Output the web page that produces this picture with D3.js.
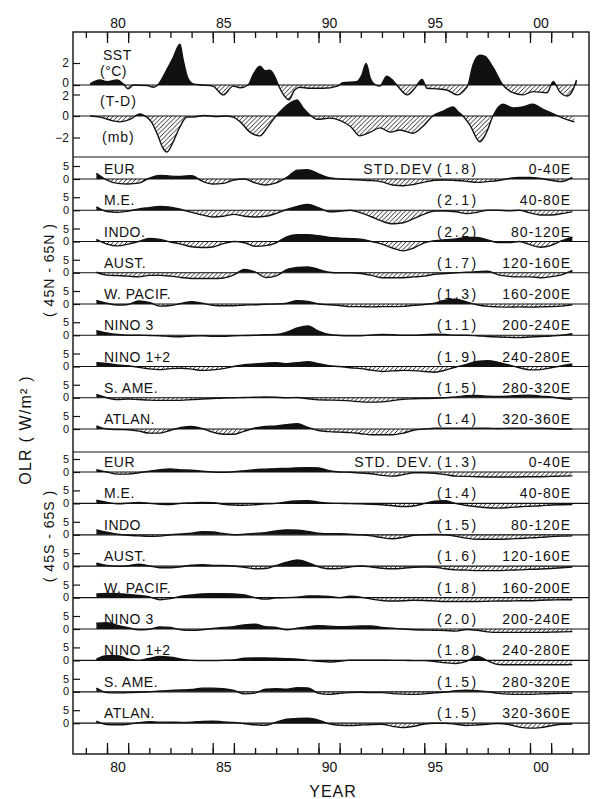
<!DOCTYPE html>
<html><head><meta charset="utf-8">
<script src="https://cdn.jsdelivr.net/npm/d3@7"></script>
<style>
body{margin:0;background:#fff}
text{font-family:"Liberation Sans",Arial,sans-serif;fill:#111}
</style>
</head><body>
<svg id="c" width="597" height="799"></svg>
<script>
// ---------- axis data ----------
const tickYears = [1979,1980,1981,1982,1983,1984,1985,1986,1987,1988,1989,1990,1991,1992,1993,1994,1995,1996,1997,1998,1999,2000,2001,2002];
const longTickYears = [1980,1981,1985,1986,1990,1991,1995,1996,2000,2001];
const labelYears = [1980.5,1985.5,1990.5,1995.5,2000.5];
const labelTexts = ["80","85","90","95","00"];

// ---------- SST (°C) ----------
const sstYears = [1979.2,1979.67,1980.0,1980.47,1980.77,1981.0,1981.25,1981.9,1982.2,1982.4,1982.83,1983.13,1983.45,1983.6,1983.83,1984.07,1984.5,1985.0,1985.5,1985.96,1986.3,1986.67,1986.9,1987.23,1987.47,1987.7,1987.95,1988.1,1988.35,1988.6,1988.85,1989.1,1989.6,1990.2,1990.9,1991.15,1991.8,1992.05,1992.25,1992.45,1992.7,1992.9,1993.23,1993.47,1993.7,1994.2,1994.55,1994.9,1995.13,1995.6,1996.07,1996.55,1996.93,1997.07,1997.3,1997.63,1997.87,1998.25,1998.72,1999.2,1999.67,2000.13,2000.8,2001.1,2001.4,2001.75,2002.05,2002.2];
const sstValues = [0.1,0.45,0.3,0.45,0.1,-0.35,0,-0.05,-0.2,0,1.4,2.5,3.7,2.3,0.6,0.1,0,-0.1,-0.9,-0.1,-0.25,0,0.9,1.7,1.3,1.35,0.7,0,-0.9,-1.35,-0.5,-0.2,-0.3,-0.3,-0.1,0.2,0.3,0.9,1.95,0.6,0,-0.1,0.8,0.5,0,-0.9,-0.3,0.5,-0.3,-0.35,-0.45,-0.9,-0.4,0,1.8,2.7,2.6,1.6,0,-0.7,-0.9,-0.6,-0.7,0.3,-0.6,-1.0,-0.35,0.45];

// ---------- T-D pressure (mb) ----------
const tdYears = [1979.2,1979.67,1980.3,1980.6,1981.1,1981.56,1981.8,1982.1,1982.36,1982.65,1982.83,1983.13,1983.45,1983.78,1984.07,1984.6,1985.2,1985.6,1985.96,1986.3,1986.76,1987.23,1987.57,1987.95,1988.18,1988.65,1988.98,1989.27,1989.6,1989.93,1990.55,1991.0,1991.5,1991.96,1992.45,1992.9,1993.4,1993.85,1994.47,1994.94,1995.4,1995.9,1996.36,1996.6,1996.83,1997.16,1997.63,1997.95,1998.25,1998.72,1999.2,1999.67,2000.13,2000.6,2001.1,2001.56,2002.1];
const tdValues = [0,-0.1,-0.45,-0.55,-0.3,0.2,0,-0.55,-1.6,-3.0,-3.35,-2.4,-1.0,-0.1,-0.1,0.05,-0.05,0,-0.1,-0.55,-1.5,-1.85,-1.1,-0.1,0.4,1.2,1.5,0.75,0.1,-0.3,-0.2,-0.4,-0.95,-1.85,-1.5,-1.1,-1.5,-1.3,-1.6,-0.95,0,0.45,0.85,0.4,0,-0.85,-2.4,-1.5,0,1.1,0.75,0.85,1.1,0.65,0.2,-0.2,-0.55];

// ---------- OLR (W/m2), half-year steps ----------
const olrYears = [1979.5,1980.0,1980.5,1981.0,1981.5,1982.0,1982.5,1983.0,1983.5,1984.0,1984.5,1985.0,1985.5,1986.0,1986.5,1987.0,1987.5,1988.0,1988.5,1989.0,1989.5,1990.0,1990.5,1991.0,1991.5,1992.0,1992.5,1993.0,1993.5,1994.0,1994.5,1995.0,1995.5,1996.0,1996.5,1997.0,1997.5,1998.0,1998.5,1999.0,1999.5,2000.0,2000.5,2001.0,2001.5,2002.0];

const nEUR   = [2.2,-0.4,-1.7,-1.9,-1.6,0.3,1.4,1.1,1.0,1.3,-0.8,-1.9,-1.7,-0.4,0,-1.5,-2.3,-1.5,0.6,3.4,3.6,2.0,0.5,0,-0.2,-0.4,-0.6,-1.1,-2.3,-2.6,-2.1,-1.2,-0.5,-0.4,-0.6,-0.9,-1.3,-1.0,-0.6,0.2,0.6,0.6,0.2,-0.5,-1.0,0.6];
const nME    = [1.3,-0.5,-0.8,-0.3,0.5,1.0,1.5,1.2,0.3,-0.8,-1.8,-2.6,-2.3,-1.6,-2.3,-2.6,-2.3,-1.2,0.3,1.5,2.2,1.0,-0.6,-0.4,0,-1.0,-2.5,-4.2,-5.2,-4.8,-3.2,-1.5,-0.3,-0.3,-0.6,-1.3,-0.8,0,0,-0.2,0,-1.0,-1.8,-1.8,-1.3,-0.5];
const nINDO  = [0.8,-1.0,-1.7,-1.0,0,1.2,0.8,-0.2,-1.0,-2.0,-2.3,-2.1,-0.8,0,-0.5,-1.8,-1.6,-0.5,1.8,2.6,2.6,2.2,1.6,1.3,1.1,0.9,0,-1.0,-2.5,-3.6,-2.5,-0.5,0.3,0.7,1.0,1.6,1.6,0.6,-0.4,-0.4,0,-1.2,-2.2,-1.5,0.3,1.8];
const nAUST  = [0.2,-0.9,-1.1,-1.3,-1.6,-1.0,-1.0,-1.3,-1.8,-2.2,-2.2,-2.2,-2.0,-0.8,1.3,0.3,-1.8,-1.2,1.2,2.0,2.2,1.3,0.2,0,0,-0.3,-1.0,-1.9,-1.9,-1.9,-1.6,-1.3,-0.6,-0.3,0,0.2,0.4,0.6,-0.8,-1.4,-1.6,-1.6,-1.9,-1.5,-0.8,0.9];
const nWPAC  = [1.4,0.3,-0.4,-0.2,1.2,0.6,-0.8,-0.6,0.2,0.9,0.3,-0.5,-0.7,-0.7,-0.4,-0.3,-0.1,0,0.3,1.3,1.0,0,-0.3,-0.6,-1.0,-1.0,-1.1,-1.0,-1.0,-0.9,-0.5,-0.2,0.3,1.5,1.8,0.8,-0.3,-0.9,-1.1,-1.2,-1.1,-1.2,-1.1,-1.0,-0.8,-0.3];
const nNINO3 = [1.8,0.9,0.3,0,0,-0.1,-0.2,-0.5,-0.6,-0.3,-0.2,-0.4,-0.4,-0.2,-0.1,0,0.2,0.3,1.2,2.8,3.6,1.6,0.3,-0.1,-0.2,-0.2,0.1,0.3,0.2,0,0,0.2,0.4,0.3,0,0,-0.2,-0.5,-0.7,-0.8,-0.9,-0.7,-0.5,-0.3,0,0.6];
const nNINO12= [1.5,1.2,0.6,0.3,-0.3,-0.9,-1.2,-0.8,-0.7,-1.0,-1.5,-1.3,-0.8,0,0.7,1.0,1.3,1.5,1.1,1.5,1.8,1.1,0.3,0,-0.5,-0.8,-1.4,-1.9,-1.7,-1.5,-1.6,-1.9,-2.2,-1.4,-0.2,0.8,1.9,2.2,1.6,0.6,-0.5,-1.3,-1.2,-0.5,0.3,1.0];
const nSAME  = [1.3,0,-0.7,-0.5,-0.7,-0.9,-1.0,-1.0,-1.0,-0.7,-0.5,-0.3,-0.1,0,0.1,0.2,0.3,0.2,0,0.1,-0.4,-0.8,-0.9,-1.0,-1.2,-1.6,-1.7,-1.6,-1.1,-0.6,-0.4,-0.3,-0.2,0,0.3,0.8,0.9,0.6,0.5,0.6,0.9,1.0,0.6,0.3,-0.3,-0.6];
const nATLAN = [1.2,0,-0.2,-0.3,-0.8,-1.6,-1.6,-0.5,0.6,1.0,0.2,-1.2,-2.0,-2.0,-0.8,0.4,1.0,1.2,1.7,2.0,0.6,-0.6,-1.0,-1.2,-1.4,-1.8,-2.2,-2.2,-2.2,-1.6,-0.5,0,0.3,0.3,0.3,0.3,0.3,0.3,0.2,0.3,0.3,0.3,0.3,0.2,0,0];

const sEUR   = [0.9,0,-0.8,-0.8,-0.3,0.3,0.9,1.2,0.8,0.7,0.3,0,-0.1,0.1,0.5,0.9,1.1,1.3,1.4,1.6,1.7,1.6,0.5,0,-0.1,-0.4,-0.7,-1.3,-1.6,-1.0,-0.3,-0.3,-0.5,-1.0,-1.6,-1.7,-1.8,-1.9,-1.9,-1.9,-1.9,-1.8,-1.8,-1.7,-1.6,-1.5];
const sME    = [1.2,0.4,-0.2,0.1,0.4,0,-0.3,-0.4,0,0.2,0.4,0.3,-0.3,-0.6,-0.7,-0.5,-0.2,0,0.6,0.9,1.0,0.5,0.1,0,-0.1,-0.2,-0.3,-0.5,-0.9,-1.2,-1.0,-0.1,0.8,1.0,-0.1,-0.8,-1.3,-1.7,-1.8,-1.6,-1.3,-1.1,-0.9,-0.6,-0.5,-0.4];
const sINDO  = [1.9,1.0,0.2,-0.2,-0.4,-0.6,-0.5,0,0.3,0.6,1.2,1.1,0.5,0,0.2,0.5,0.8,1.5,1.9,1.8,1.3,0.6,0.4,0.4,0.2,0,-0.4,-1.1,-1.5,-1.0,-0.2,0,0.1,0,-0.6,-1.3,-1.7,-1.7,-1.7,-1.6,-1.4,-1.2,-1.0,-0.7,-0.5,-0.4];
const sAUST  = [1.2,0.3,0,0.2,0.8,0.1,-0.6,-0.6,-0.2,0.4,0.6,0.3,0.3,0.1,-0.4,-1.0,-0.9,0.3,1.5,2.4,1.4,-0.2,-1.0,-0.9,-0.3,0.1,-0.3,-0.8,-1.0,-0.8,-0.4,-0.3,-0.4,-1.0,-1.4,-1.5,-1.7,-1.7,-1.7,-1.5,-1.4,-1.2,-1.1,-0.9,-0.6,-0.3];
const sWPAC  = [1.4,1.6,1.5,1.2,0.8,0.3,-0.8,-0.4,0.5,1.0,1.4,1.5,1.5,1.4,1.0,0,-0.6,-0.1,0,0.2,0.6,0.6,0.4,0,0.5,0.2,-0.6,-1.1,-1.3,-1.2,-1.0,-1.1,-1.3,-1.5,-1.5,-1.5,-1.5,-1.4,-1.3,-1.3,-1.2,-1.2,-1.0,-0.9,-0.8,-0.8];
const sNINO3 = [2.2,2.4,1.4,0.5,-0.3,-0.1,0.8,0.6,-0.3,-0.5,-0.3,0.2,0.6,0.9,1.6,1.8,0.9,0.6,-0.3,0.3,0.9,1.3,1.1,0.9,1.0,1.2,1.2,0.6,0.3,0,-0.3,-0.4,-0.5,-0.6,-0.8,-0.2,-0.5,-1.1,-1.3,-1.3,-1.3,-1.3,-1.3,-1.2,-1.1,-1.0];
const sNINO12= [0.5,1.8,1.8,0.6,0,0.8,1.5,1.2,0.5,0,-0.1,-0.1,0,0.2,0.8,0.9,0.9,0.8,0.7,0.5,0,-0.3,-0.6,-0.3,0.1,0.1,0.1,0.1,0,0,-0.1,-0.1,-0.4,-0.9,-1.2,-0.4,1.6,-0.2,-1.6,-1.7,-1.7,-1.7,-1.7,-1.7,-1.7,-1.6];
const sSAME  = [1.4,-0.3,-0.4,-0.3,-0.2,0,0.3,0.5,0.7,0.9,1.4,1.4,1.2,0.5,-0.8,-0.5,1.0,1.2,1.0,1.6,1.5,-0.6,-1.0,-0.6,-0.3,-0.2,-0.3,-0.3,-0.7,-0.9,-1.0,-0.8,-0.4,-0.1,0.4,0.6,0.4,0,-0.6,-0.9,-1.0,-1.0,-0.8,-0.7,-0.6,-0.6];
const sATLAN = [0.8,-0.5,-0.6,-0.4,0.2,0.6,0.4,0.4,0.3,0.4,0.7,0.8,0.5,0.3,-0.2,-0.6,-0.8,0.4,1.5,1.8,1.9,1.2,-0.2,-0.8,-0.9,-0.7,-0.5,-0.4,-1.2,-1.7,-1.2,-0.3,0,0,-0.4,-0.9,-0.7,-0.4,-0.1,-0.5,-1.5,-1.9,-1.7,-1.0,-0.4,-0.3];

const northSeries = [nEUR,nME,nINDO,nAUST,nWPAC,nNINO3,nNINO12,nSAME,nATLAN];
const southSeries = [sEUR,sME,sINDO,sAUST,sWPAC,sNINO3,sNINO12,sSAME,sATLAN];
const northNames = ["EUR","M.E.","INDO.","AUST.","W. PACIF.","NINO 3","NINO 1+2","S. AME.","ATLAN."];
const southNames = ["EUR","M.E.","INDO","AUST.","W. PACIF.","NINO 3","NINO 1+2","S. AME.","ATLAN."];
const lonBands = ["0-40E","40-80E","80-120E","120-160E","160-200E","200-240E","240-280E","280-320E","320-360E"];
const northStd = [1.8,2.1,2.2,1.7,1.3,1.1,1.9,1.5,1.4];
const southStd = [1.3,1.4,1.5,1.6,1.8,2.0,1.8,1.5,1.5];

// ---------- drawing ----------
const INK = "#111";
const FONT = "'Liberation Sans',Arial,sans-serif";
const L = 73, R = 589, T = 32, B = 754;
const svg = d3.select("#c");
svg.append("rect").attr("width",597).attr("height",799).attr("fill","#fff");
const defs = svg.append("defs");
const pat = defs.append("pattern").attr("id","hatch").attr("patternUnits","userSpaceOnUse")
  .attr("width",4.5).attr("height",4.5);
pat.append("rect").attr("width",4.5).attr("height",4.5).attr("fill","#fff");
pat.append("path").attr("d","M0,4.5 L4.5,0 M-1,1 L1,-1 M3.5,5.5 L5.5,3.5")
  .attr("stroke",INK).attr("stroke-width",0.9);

const x = d3.scaleLinear().domain([1980,2000]).range([107,530]);
const curve = d3.curveMonotoneX;
let clipId = 0;

// tickShift: optional per-value vertical nudge of the tick label text
function panel(times, vals, y, tickVals, fs, tickShift){
  const pts = times.map((t,i)=>[t, vals[i]]);
  const z = y(0);
  const id = clipId++;
  defs.append("clipPath").attr("id","up"+id).append("rect")
    .attr("x",L).attr("y",z-80).attr("width",R-L).attr("height",80);
  defs.append("clipPath").attr("id","dn"+id).append("rect")
    .attr("x",L).attr("y",z).attr("width",R-L).attr("height",80);
  const area = d3.area().x(d=>x(d[0])).y0(z).y1(d=>y(d[1])).curve(curve);
  const line = d3.line().x(d=>x(d[0])).y(d=>y(d[1])).curve(curve);
  const g = svg.append("g");
  g.append("path").datum(pts).attr("d",area).attr("fill",INK).attr("clip-path",`url(#up${id})`);
  g.append("path").datum(pts).attr("d",area).attr("fill","url(#hatch)").attr("clip-path",`url(#dn${id})`);
  g.append("line").attr("x1",L).attr("x2",R).attr("y1",z).attr("y2",z)
    .attr("stroke",INK).attr("stroke-width",1.2);
  g.append("path").datum(pts).attr("d",line).attr("fill","none")
    .attr("stroke",INK).attr("stroke-width",1.4).attr("stroke-linejoin","round");
  const ax = svg.append("g").attr("transform",`translate(${L},0)`)
    .call(d3.axisLeft(y).tickValues(tickVals).tickSize(-7).tickPadding(4).tickFormat(d3.format("d")));
  ax.select(".domain").remove();
  ax.selectAll("line").attr("stroke",INK).attr("stroke-width",1.2);
  ax.selectAll("text").attr("font-size",fs).attr("fill",INK).attr("font-family",FONT)
    .attr("y",d=> (tickShift && tickShift[d]) ? tickShift[d] : 0);
  return z;
}

// SST and T-D
const ySST = d3.scaleLinear().domain([0,2]).range([85,63]);
const yTD  = d3.scaleLinear().domain([0,2]).range([116,94.5]);
panel(sstYears, sstValues, ySST, [0,2], 12, {0:-2.5});
panel(tdYears, tdValues, yTD, [-2,0,2], 12, {2:1});

// OLR panels
const zN = d3.scalePoint().domain(d3.range(9)).range([179,429]);
const zS = d3.scalePoint().domain(d3.range(9)).range([472,723.2]);
function olrGroup(series, names, std, zs, stdLabel){
  series.forEach((vals,i)=>{
    const z0 = zs(i);
    const y = d3.scaleLinear().domain([0,5]).range([z0, z0-13]);
    panel(olrYears, vals, y, [0,5], 11, {0:-0.5});
    svg.append("text").attr("x",104).attr("y",z0-5).attr("font-size",14)
      .attr("letter-spacing",0.5).text(names[i]);
    svg.append("text").attr("x",571).attr("y",z0-5).attr("font-size",14)
      .attr("text-anchor","end").attr("letter-spacing",1).text(lonBands[i]);
    svg.append("text").attr("x",437).attr("y",z0-5).attr("font-size",14)
      .attr("letter-spacing",2.6).text("(" + d3.format(".1f")(std[i]) + ")");
    if(i===0){
      svg.append("text").attr("x",433).attr("y",z0-5).attr("font-size",14)
        .attr("text-anchor","end").attr("letter-spacing",1.3).text(stdLabel);
    }
  });
}
olrGroup(northSeries, northNames, northStd, zN, "STD.DEV");
olrGroup(southSeries, southNames, southStd, zS, "STD. DEV.");

// separators
[157, 452].forEach(yy=>{
  svg.append("line").attr("x1",L).attr("x2",R).attr("y1",yy).attr("y2",yy)
    .attr("stroke",INK).attr("stroke-width",1.2);
});

// frame
svg.append("rect").attr("x",L).attr("y",T).attr("width",R-L).attr("height",B-T)
  .attr("fill","none").attr("stroke",INK).attr("stroke-width",1.4);

// time axes
function styleAxis(a){
  a.select(".domain").remove();
  a.selectAll("line").attr("stroke",INK).attr("stroke-width",1.3);
  a.selectAll("text").attr("font-size",14).attr("fill",INK).attr("font-family",FONT);
}
styleAxis(svg.append("g").attr("transform",`translate(0,${T})`)
  .call(d3.axisBottom(x).tickValues(tickYears).tickSize(6).tickFormat("")));
styleAxis(svg.append("g").attr("transform",`translate(0,${T})`)
  .call(d3.axisBottom(x).tickValues(longTickYears).tickSize(11).tickFormat("")));
styleAxis(svg.append("g").attr("transform",`translate(0,${T})`)
  .call(d3.axisTop(x).tickValues(labelYears).tickSize(0).tickPadding(4).tickFormat((d,i)=>labelTexts[i])));
styleAxis(svg.append("g").attr("transform",`translate(0,${B})`)
  .call(d3.axisTop(x).tickValues(tickYears).tickSize(6).tickFormat("")));
styleAxis(svg.append("g").attr("transform",`translate(0,${B})`)
  .call(d3.axisTop(x).tickValues(longTickYears).tickSize(11).tickFormat("")));
styleAxis(svg.append("g").attr("transform",`translate(0,${B})`)
  .call(d3.axisBottom(x).tickValues(labelYears).tickSize(0).tickPadding(8).tickFormat((d,i)=>labelTexts[i])));

// panel texts for SST / T-D
svg.append("text").attr("x",103).attr("y",60).attr("font-size",14).attr("letter-spacing",0.5).text("SST");
svg.append("text").attr("x",100).attr("y",76).attr("font-size",14).attr("letter-spacing",0.5).text("(°C)");
svg.append("text").attr("x",100).attr("y",106).attr("font-size",14).attr("letter-spacing",1).text("(T-D)");
svg.append("text").attr("x",102).attr("y",142).attr("font-size",14).attr("letter-spacing",1).text("(mb)");

// axis titles
svg.append("text").attr("x",333).attr("y",797).attr("font-size",16).attr("text-anchor","middle")
  .attr("letter-spacing",1).text("YEAR");
svg.append("text").attr("transform","translate(31,430) rotate(-90)").attr("font-size",16)
  .attr("text-anchor","middle").attr("letter-spacing",1.2).text("OLR  ( W/m² )");
svg.append("text").attr("transform","translate(54,270) rotate(-90)").attr("font-size",14)
  .attr("text-anchor","middle").attr("letter-spacing",1).text("( 45N - 65N )");
svg.append("text").attr("transform","translate(54,536) rotate(-90)").attr("font-size",14)
  .attr("text-anchor","middle").attr("letter-spacing",1).text("( 45S - 65S )");
</script>
</body></html>
